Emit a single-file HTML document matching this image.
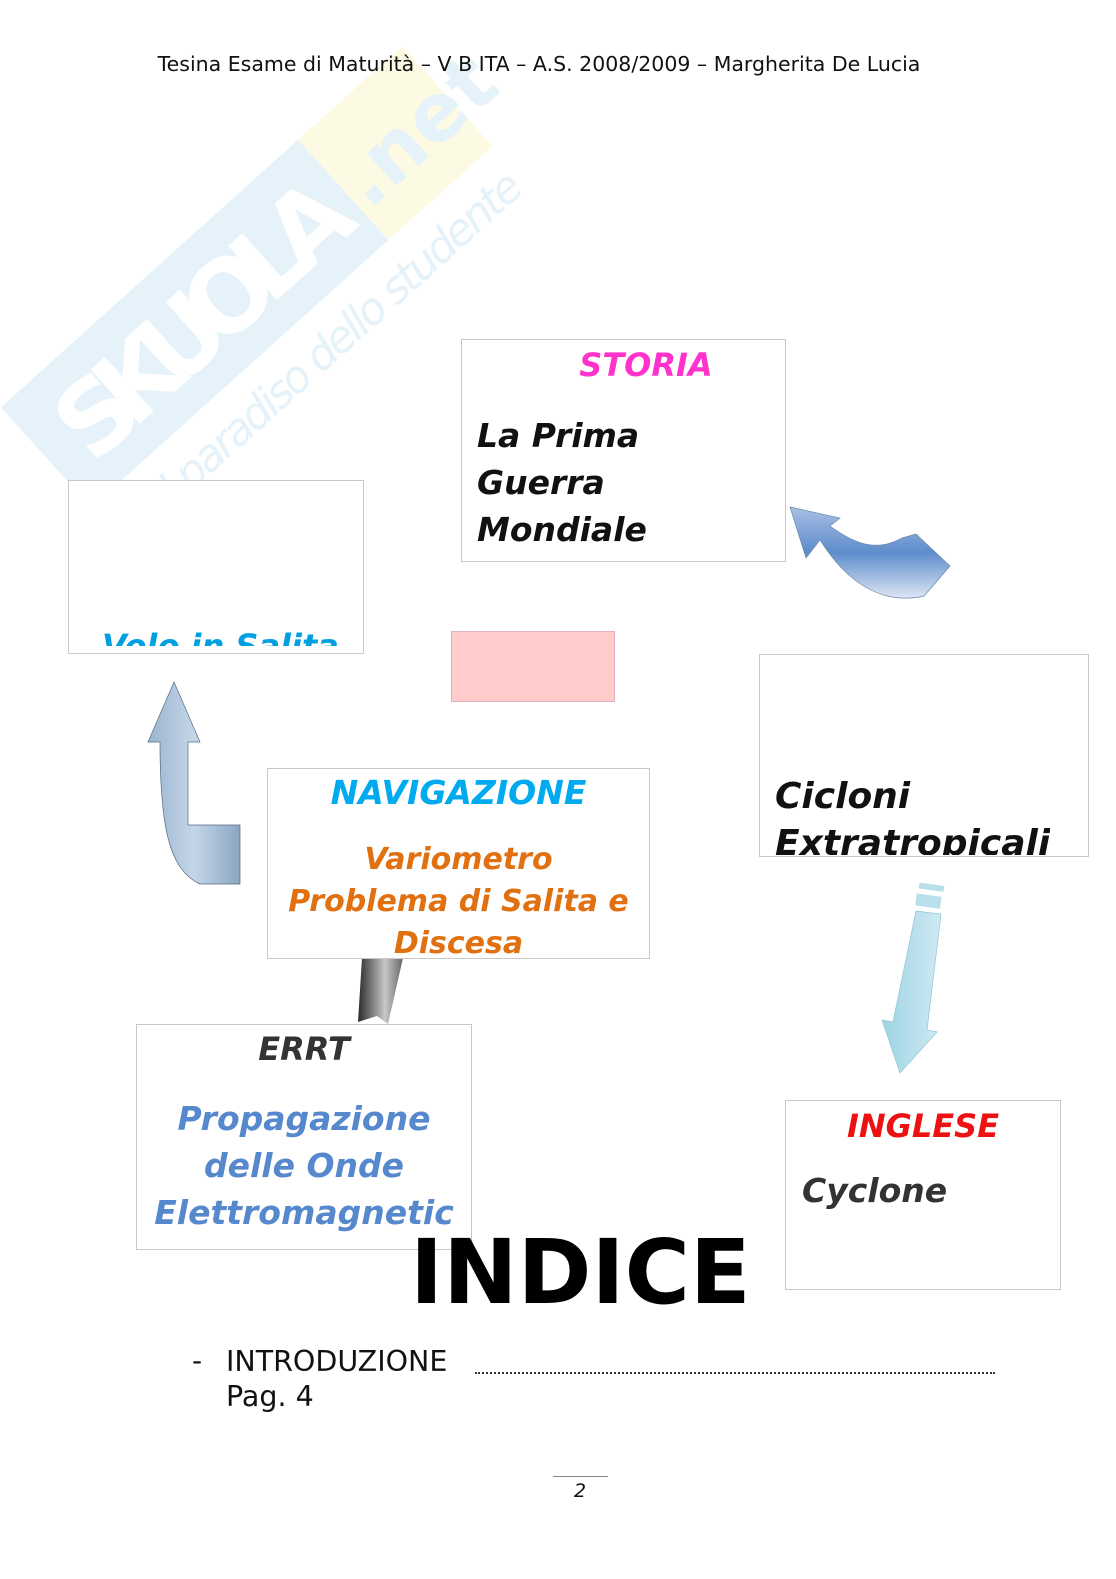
<!DOCTYPE html>
<html><head><meta charset="utf-8"><style>
body{margin:0;width:1116px;height:1579px;position:relative;background:#fff;overflow:hidden;font-family:"DejaVu Sans","Liberation Sans",sans-serif}
.a{position:absolute;white-space:nowrap}
.box{position:absolute;border:1px solid #c8c8c8;background:#fff;overflow:hidden}
.bi{font-weight:bold;font-style:italic}
</style></head><body>
<svg class="a" style="left:0;top:0" width="1116" height="1579">
<defs>
<linearGradient id="g1" x1="0" x2="1"><stop offset="0" stop-color="#9ab4d0"/><stop offset=".5" stop-color="#c4d6e8"/><stop offset="1" stop-color="#8aa6c2"/></linearGradient>
<linearGradient id="g2" x1="0" y1="0" x2="0" y2="1"><stop offset="0" stop-color="#a8c0e4"/><stop offset=".5" stop-color="#5e8ccc"/><stop offset="1" stop-color="#dde6f4"/></linearGradient>
<linearGradient id="g3" x1="0" x2="1"><stop offset="0" stop-color="#2a2a2a"/><stop offset=".6" stop-color="#c8c8c8"/><stop offset="1" stop-color="#666"/></linearGradient>
<linearGradient id="g4" x1="0" x2="1"><stop offset="0" stop-color="#9fd4e4"/><stop offset="1" stop-color="#cfeaf2"/></linearGradient>
</defs>
<!-- watermark -->
<g transform="translate(245,275) rotate(-42)" opacity="0.6">
<rect x="-270" y="-65" width="400" height="135" fill="#d6ebf7"/>
<rect x="130" y="-65" width="140" height="135" fill="#fbf8cf"/>
<text x="-240" y="40" font-family="DejaVu Sans" font-weight="bold" font-size="100" fill="#fff" textLength="360">SKUOLA</text>
<text x="135" y="35" font-family="DejaVu Sans" font-weight="bold" font-size="80" fill="#d6ebf7">.net</text>
<text x="-215" y="125" font-family="DejaVu Sans" font-size="44" fill="#d6ebf7" font-style="italic" textLength="480">il paradiso dello studente</text>
</g>
<!-- left up arrow -->
<path d="M174,682 L200,742 L188,742 L188,825 L240,825 L240,884 L200,884 C170,870 160,830 160,742 L148,742 Z" fill="url(#g1)" stroke="#556a80" stroke-width="0.7"/>
<!-- top right curved arrow -->
<path d="M790,507 L840,518 L830,526 C860,548 880,550 902,538 L916,534 L950,566 L924,596 C880,606 845,580 820,540 L806,558 Z" fill="url(#g2)" stroke="#6a88b0" stroke-width="0.7"/>
<!-- dark arrow -->
<path d="M362,958 L403,958 L388,1024 L377,1016 L358,1022 Z" fill="url(#g3)"/>
<!-- down arrow -->
<rect x="919" y="884" width="25" height="6" fill="#b9dfeb" transform="rotate(8 930 887)"/>
<rect x="916" y="895" width="25" height="12" fill="#b9dfeb" transform="rotate(8 928 900)"/>
<path d="M916,911 L941,914 L927,1030 L937,1032 L900,1073 L882,1020 L893,1022 Z" fill="url(#g4)" stroke="#8cc4d6" stroke-width="0.7"/>
</svg>
<div class="a" style="left:0;width:1078px;top:52px;text-align:center;font-size:20.5px;color:#111">Tesina Esame di Maturità – V B ITA – A.S. 2008/2009 – Margherita De Lucia</div>

<div class="box" style="left:461px;top:339px;width:323px;height:221px">
<div class="a bi" style="left:0;width:368px;text-align:center;top:6px;font-size:32px;color:#ff33cc">STORIA</div>
<div class="a bi" style="left:15px;top:72px;font-size:33px;line-height:47px;color:#111">La Prima<br>Guerra<br>Mondiale</div>
</div>
<div class="box" style="left:68px;top:480px;width:294px;height:172px">
<div class="a bi" style="left:33px;top:146px;font-size:32px;color:#00a0e0;height:19px;overflow:hidden">Volo in Salita</div>
</div>
<div class="a" style="left:451px;top:631px;width:162px;height:69px;background:#ffcccc;border:1px solid #e6b0c4"></div>
<div class="box" style="left:759px;top:654px;width:328px;height:201px">
<div class="a bi" style="left:15px;top:118px;font-size:36px;line-height:47px;color:#111;height:82px;overflow:hidden">Cicloni<br>Extratropicali</div>
</div>
<div class="box" style="left:267px;top:768px;width:381px;height:189px">
<div class="a bi" style="left:0;width:381px;text-align:center;top:4px;font-size:33px;color:#00aaee">NAVIGAZIONE</div>
<div class="a bi" style="left:0;width:381px;text-align:center;top:70px;font-size:30px;line-height:42px;color:#e07010;white-space:normal">Variometro<br>Problema di Salita e<br>Discesa</div>
</div>
<div class="box" style="left:136px;top:1024px;width:334px;height:224px;overflow:visible">
<div class="a bi" style="left:0;width:334px;text-align:center;top:5px;font-size:32px;color:#333">ERRT</div>
<div class="a bi" style="left:0;width:334px;text-align:center;top:70px;font-size:33px;line-height:47px;color:#5588cc">Propagazione<br>delle Onde<br>Elettromagnetic</div>
</div>
<div class="box" style="left:785px;top:1100px;width:274px;height:188px">
<div class="a bi" style="left:0;width:274px;text-align:center;top:6px;font-size:32px;color:#ee1111">INGLESE</div>
<div class="a bi" style="left:16px;top:70px;font-size:33px;color:#333">Cyclone</div>
</div>
<div class="a" style="left:410px;top:1222px;font-size:89px;font-weight:bold;color:#000;line-height:100px">INDICE</div>
<div class="a" style="left:192px;top:1344px;font-size:28px;color:#111">-</div>
<div class="a" style="left:226px;top:1344px;font-size:28.5px;color:#111;line-height:35px">INTRODUZIONE<br>Pag. 4</div>
<div class="a" style="left:475px;top:1372px;width:520px;border-top:2px dotted #333"></div>
<div class="a" style="left:553px;top:1476px;width:55px;border-top:1px solid #888"></div>
<div class="a" style="left:574px;top:1480px;font-size:19px;font-style:italic;color:#111">2</div>
</body></html>
